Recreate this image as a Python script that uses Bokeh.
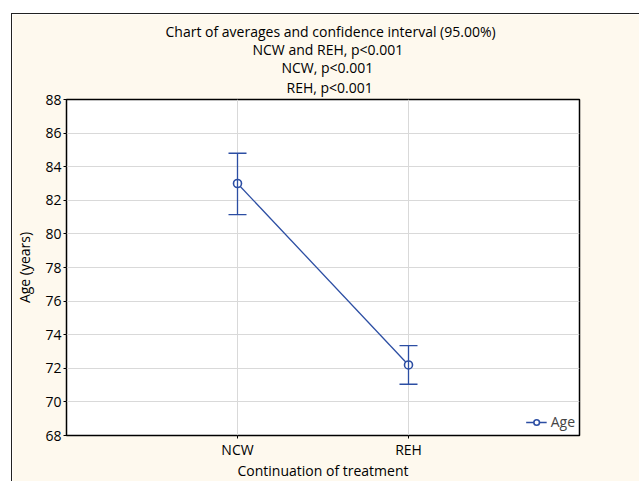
from bokeh.plotting import figure
from bokeh.models import (ColumnDataSource, FactorRange, Range1d, Whisker, TeeHead,
                          Title, Legend, LegendItem, FixedTicker)
from bokeh.embed import file_html
from bokeh.resources import INLINE

# ---- data ----
categories = ["NCW", "REH"]
means = [83.0, 72.2]
lower = [81.15, 71.05]
upper = [84.8, 73.35]
y_ticks = [68, 70, 72, 74, 76, 78, 80, 82, 84, 86, 88]
title_lines = ["Chart of averages and confidence interval (95.00%)",
               "NCW and REH, p<0.001",
               "NCW, p<0.001",
               "REH, p<0.001"]
x_title = "Continuation of treatment"
y_title = "Age (years)"
series_name = "Age"

FONT = "Open Sans"
BLUE = "#2C4EA3"
CREAM = "#FEF9EE"
GRID = "#D9D9D9"

src = ColumnDataSource(dict(cat=categories, mean=means, lower=lower, upper=upper))

p = figure(x_range=FactorRange(*categories, range_padding=0.5, range_padding_units="absolute"),
           y_range=Range1d(68, 88), width=628, height=468,
           output_backend="svg", toolbar_location=None,
           min_border_left=52, min_border_right=61, min_border_top=85, min_border_bottom=45)
p.margin = (13, 0, 0, 11)
p.styles = {"border-left": "1px solid #222", "border-top": "1px solid #222"}

p.border_fill_color = CREAM
p.background_fill_color = "white"
p.outline_line_color = "black"
p.outline_line_width = 1.5

p.xgrid.grid_line_color = GRID
p.ygrid.grid_line_color = GRID

for ax in (p.xaxis[0], p.yaxis[0]):
    ax.axis_line_color = None
    ax.major_tick_in = 0
    ax.major_tick_out = 3
    ax.major_tick_line_color = "black"
    ax.minor_tick_line_color = None
    ax.major_label_text_font = FONT
    ax.major_label_text_font_size = "14px"
    ax.major_label_text_color = "black"
    ax.axis_label_text_font = FONT
    ax.axis_label_text_font_size = "14px"
    ax.axis_label_text_font_style = "normal"
    ax.axis_label_text_color = "black"
p.yaxis[0].ticker = FixedTicker(ticks=y_ticks)
p.yaxis[0].major_label_standoff = 2
p.yaxis[0].axis_label = y_title
p.yaxis[0].axis_label_standoff = 8
p.xaxis[0].major_label_standoff = 1
p.xaxis[0].axis_label = x_title
p.xaxis[0].axis_label_standoff = -1

wh = Whisker(base="cat", upper="upper", lower="lower", source=src,
             line_color=BLUE, line_width=1.3, level="glyph",
             upper_head=TeeHead(size=18, line_color=BLUE, line_width=1.3),
             lower_head=TeeHead(size=18, line_color=BLUE, line_width=1.3))
p.add_layout(wh)

line_r = p.line("cat", "mean", source=src, line_color=BLUE, line_width=1.3)
pt_r = p.scatter("cat", "mean", source=src, marker="circle", size=8,
                 line_color=BLUE, line_width=1.6, fill_color="white")

# titles: first added sits closest to the frame; left-aligned with offsets to centre them at x~328
title_offsets = [99, 186, 215, 220]
last = len(title_lines) - 1
for i in range(last, -1, -1):
    p.add_layout(Title(text=title_lines[i], align="left", offset=title_offsets[i],
                       standoff=(3 if i == last else -3),
                       vertical_align=("middle" if i == last else "bottom"),
                       text_font=FONT, text_font_size="14px", text_font_style="normal",
                       text_color="black"), "above")

legend = Legend(items=[LegendItem(label=series_name, renderers=[line_r, pt_r])],
                location="bottom_right", padding=2, margin=4, spacing=0,
                glyph_width=21, glyph_height=14, label_standoff=4,
                label_text_font=FONT, label_text_font_size="14px",
                background_fill_color="white", background_fill_alpha=1.0,
                border_line_color=None)
p.add_layout(legend, "center")

open("out.html", "w").write(file_html(p, INLINE))
